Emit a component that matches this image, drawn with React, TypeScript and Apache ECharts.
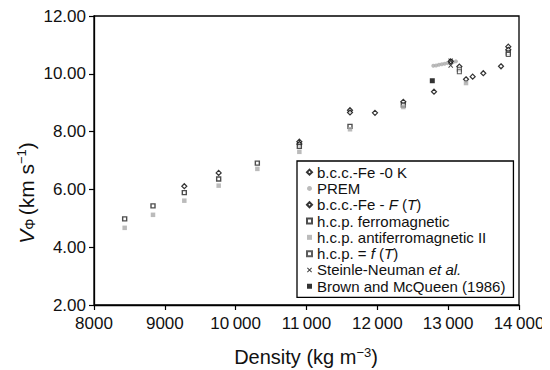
import React, { useEffect, useRef } from "react";
import * as echarts from "echarts";

const xTicks = [8000, 9000, 10000, 11000, 12000, 13000, 14000];
const yTicks = [2, 4, 6, 8, 10, 12];

const bcc0KDensity = [9275, 9760, 10899, 11614, 11967, 12367, 12800, 13252, 13346, 13496, 13746, 13849];
const bcc0KVel = [6.11, 6.57, 7.65, 8.74, 8.65, 9.03, 9.38, 9.81, 9.9, 10.02, 10.26, 10.94];

const premDensity = [12790, 12830, 12870, 12910, 12950, 12990, 13030, 13070, 13110];
const premVel = [10.28, 10.29, 10.31, 10.33, 10.35, 10.37, 10.39, 10.41, 10.43];

const bccFTDensity = [10899, 11614, 13036, 13158, 13849];
const bccFTVel = [7.57, 8.66, 10.43, 10.25, 10.83];

const hcpFerroDensity = [8433, 8833, 9275, 9760, 10306, 10899, 11614, 12367, 13849];
const hcpFerroVel = [4.98, 5.43, 5.89, 6.36, 6.91, 7.49, 8.18, 8.92, 10.72];

const hcpAfmDensity = [8433, 8833, 9275, 9760, 10306, 10899, 11614, 12367, 13252];
const hcpAfmVel = [4.67, 5.12, 5.61, 6.13, 6.71, 7.3, 8.08, 8.85, 9.68];

const hcpFTDensity = [13158, 13158, 13849];
const hcpFTVel = [10.16, 10.07, 10.67];

const steinleDensity = [13036, 13036];
const steinleVel = [10.45, 10.29];

const brownDensity = [12776];
const brownVel = [9.76];

const legendNames = [
  "b.c.c.-Fe -0 K",
  "PREM",
  "b.c.c.-Fe - F(T)",
  "h.c.p. ferromagnetic",
  "h.c.p. antiferromagnetic II",
  "h.c.p. = f(T)",
  "Steinle-Neuman et al.",
  "Brown and McQueen (1986)",
];

const zip = (xs: number[], ys: number[]) => xs.map((x, i) => [x, ys[i]]);

const crossPath =
  "path://M0,1.4L1.4,0L5,3.6L8.6,0L10,1.4L6.4,5L10,8.6L8.6,10L5,6.4L1.4,10L0,8.6L3.6,5Z";

const FONT = "'Liberation Sans', Arial, Helvetica, sans-serif";

export default function App() {
  const ref = useRef<HTMLDivElement>(null);
  useEffect(() => {
    if (!ref.current) return;
    const chart = echarts.init(ref.current, null, { renderer: "svg" });
    const openDiamond = { color: "#fff", borderColor: "#000", borderWidth: 1.2 };
    const openSquare = { color: "#fff", borderColor: "#222", borderWidth: 1.4 };
    const mk = (name: string, data: number[][], symbol: string, size: number, itemStyle: any) => ({
      name,
      type: "scatter",
      data,
      symbol,
      symbolSize: size,
      itemStyle,
      z: 3,
    });
    chart.setOption({
      animation: false,
      textStyle: { fontFamily: FONT },
      grid: {
        left: 94,
        right: 31,
        top: 16,
        bottom: 65,
        show: true,
        borderColor: "#000",
        borderWidth: 1.3,
        backgroundColor: "transparent",
      },
      xAxis: {
        type: "value",
        min: 8000,
        max: 14000,
        interval: 1000,
        axisLine: { show: true, lineStyle: { color: "#000", width: 1.3 } },
        axisTick: { show: true, length: 5, lineStyle: { color: "#000", width: 1.2 } },
        splitLine: { show: false },
        axisLabel: {
          color: "#111",
          fontSize: 17,
          fontFamily: FONT,
          margin: 10,
          formatter: (v: number) =>
            xTicks.includes(v) && v >= 10000
              ? `${Math.floor(v / 1000)}\u2009${String(v % 1000).padStart(3, "0")}`
              : `${v}`,
        },
      },
      yAxis: {
        type: "value",
        min: 2,
        max: 12,
        interval: 2,
        axisLine: { show: true, lineStyle: { color: "#000", width: 1.3 } },
        axisTick: { show: true, length: 5, lineStyle: { color: "#000", width: 1.2 } },
        splitLine: { show: false },
        axisLabel: {
          color: "#111",
          fontSize: 17,
          fontFamily: FONT,
          margin: 8,
          formatter: (v: number) => (yTicks.includes(v) ? v.toFixed(2) : ""),
        },
      },
      legend: {
        orient: "vertical",
        left: 297,
        top: 161,
        padding: [3, 8, 3, 9],
        itemGap: 0,
        itemWidth: 5,
        itemHeight: 5,
        borderColor: "#000",
        borderWidth: 1.3,
        backgroundColor: "#fff",
        data: legendNames,
        textStyle: {
          fontSize: 15,
          fontFamily: FONT,
          color: "#111",
          lineHeight: 16.3,
          padding: [0, 0, 0, 0],
          rich: {
            i: { fontStyle: "italic", fontSize: 15, fontFamily: FONT, color: "#111", lineHeight: 16.3 },
          },
        },
        formatter: (name: string) => {
          if (name === "b.c.c.-Fe - F(T)") return "b.c.c.-Fe - {i|F} ({i|T})";
          if (name === "h.c.p. = f(T)") return "h.c.p. = {i|f} ({i|T})";
          if (name === "Steinle-Neuman et al.") return "Steinle-Neuman {i|et al.}";
          return name;
        },
      },
      graphic: [
        {
          type: "text",
          x: 26,
          y: 193,
          rotation: Math.PI / 2,
          style: {
            text: "{v|V}{s|Φ} {n|(km s}{p|−1}{n|)}",
            align: "center",
            verticalAlign: "middle",
            fill: "#111",
            rich: {
              v: { fontSize: 21, fontStyle: "italic", fontFamily: FONT, fill: "#111" },
              s: { fontSize: 14, fontFamily: FONT, fill: "#111", padding: [8, 0, 0, 0] },
              n: { fontSize: 21, fontFamily: FONT, fill: "#111" },
              p: { fontSize: 13, fontFamily: FONT, fill: "#111", padding: [0, 0, 10, 0] },
            },
          },
        },
        {
          type: "text",
          x: 306,
          y: 357,
          style: {
            text: "{n|Density (kg m}{p|−3}{n|)}",
            align: "center",
            verticalAlign: "middle",
            fill: "#111",
            rich: {
              n: { fontSize: 20, fontFamily: FONT, fill: "#111" },
              p: { fontSize: 13, fontFamily: FONT, fill: "#111", padding: [0, 0, 10, 0] },
            },
          },
        },
      ],
      series: [
        mk(legendNames[0], zip(bcc0KDensity, bcc0KVel), "diamond", 5, openDiamond),
        mk(legendNames[1], zip(premDensity, premVel), "circle", 4, { color: "#aaa" }),
        mk(legendNames[2], zip(bccFTDensity, bccFTVel), "diamond", 5, openDiamond),
        mk(legendNames[3], zip(hcpFerroDensity, hcpFerroVel), "rect", 4, openSquare),
        mk(legendNames[4], zip(hcpAfmDensity, hcpAfmVel), "rect", 4.5, { color: "#aaa" }),
        mk(legendNames[5], zip(hcpFTDensity, hcpFTVel), "rect", 4, { color: "#fff", borderColor: "#333", borderWidth: 1.1 }),
        mk(legendNames[6], zip(steinleDensity, steinleVel), crossPath, 5, { color: "#111" }),
        mk(legendNames[7], zip(brownDensity, brownVel), "rect", 5, { color: "#000" }),
      ],
    });
    return () => chart.dispose();
  }, []);
  return <div ref={ref} style={{ width: 550, height: 370, marginLeft: -8, marginTop: -8 }} />;
}
